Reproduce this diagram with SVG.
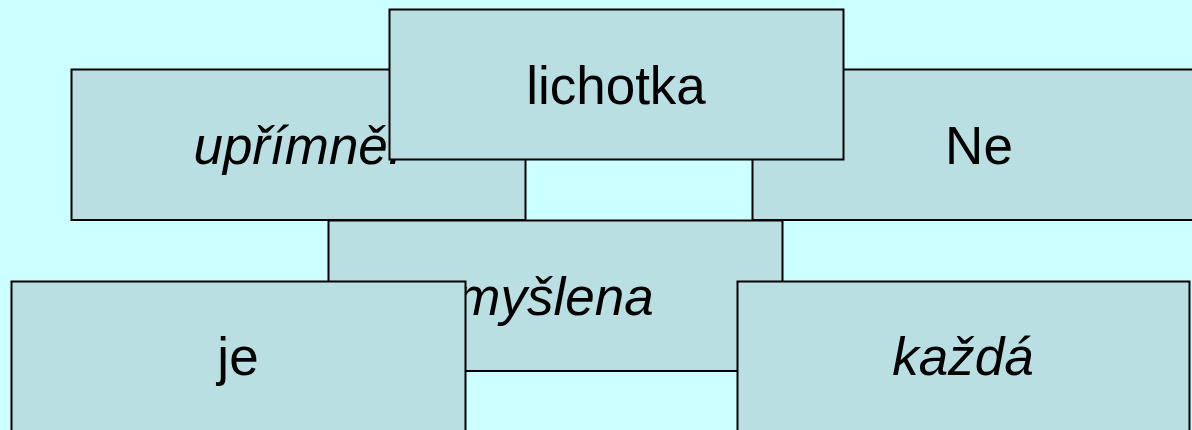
<svg xmlns="http://www.w3.org/2000/svg" width="1192" height="430" viewBox="0 0 1192 430">
<style>
.box{fill:#BADFE2;stroke:#000;stroke-width:2}
.t{font-family:"Liberation Sans",Arial,sans-serif;font-size:53px;fill:#000;text-anchor:middle}
.i{font-style:italic}
</style>
<rect width="1192" height="430" fill="#CCFFFF"/>
<g id="node-uprimne"><rect class="box" x="71.5" y="69.5" width="454" height="150.5"/><text class="t i" x="298" y="164">upřímně.</text></g>
<g id="node-ne"><rect class="box" x="752.5" y="69.5" width="454" height="150.5"/><text class="t" x="979" y="164">Ne</text></g>
<g id="node-lichotka"><rect class="box" x="389.5" y="9.5" width="454" height="150"/><text class="t" x="616" y="104">lichotka</text></g>
<g id="node-myslena"><rect class="box" x="328.5" y="220.5" width="454" height="150.5"/><text class="t i" x="555" y="315">myšlena</text></g>
<g id="node-je"><rect class="box" x="11.5" y="281.5" width="454" height="151"/><text class="t" x="238" y="375">je</text></g>
<g id="node-kazda"><rect class="box" x="737.5" y="281.5" width="452" height="151"/><text class="t i" x="963" y="375">každá</text></g>
<g id="connectors"></g>
</svg>
